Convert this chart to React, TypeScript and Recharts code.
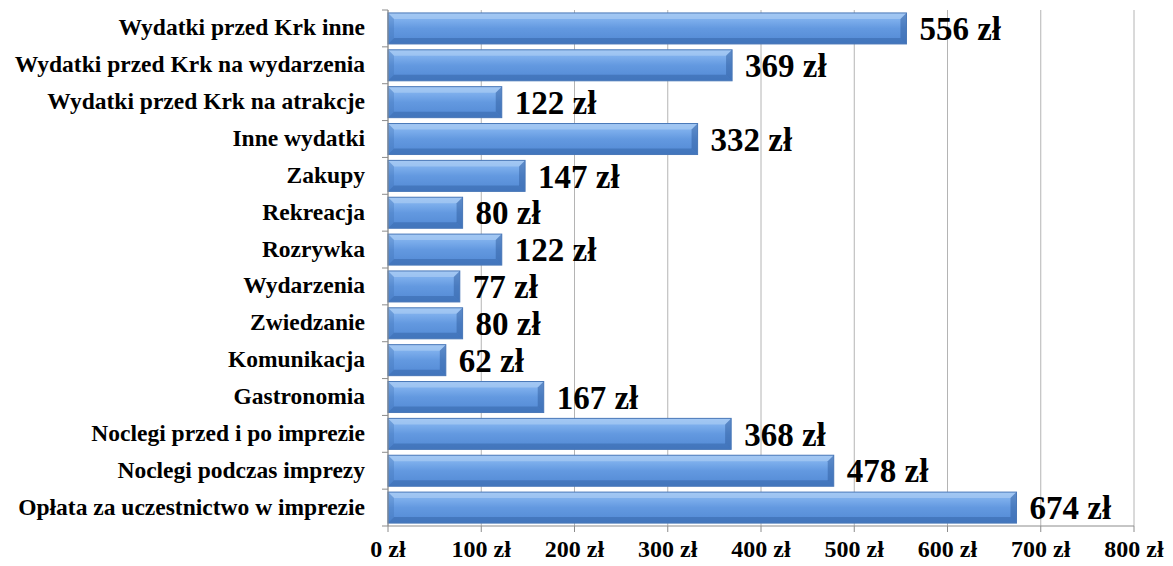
import React from 'react';
import { BarChart, Bar, XAxis, YAxis, CartesianGrid, LabelList } from 'recharts';

const categories = [
  'Wydatki przed Krk inne',
  'Wydatki przed Krk na wydarzenia',
  'Wydatki przed Krk na atrakcje',
  'Inne wydatki ',
  'Zakupy',
  'Rekreacja',
  'Rozrywka',
  'Wydarzenia',
  'Zwiedzanie',
  'Komunikacja',
  'Gastronomia',
  'Noclegi przed i po imprezie',
  'Noclegi podczas imprezy',
  'Opłata za uczestnictwo w imprezie',
];
const values = [556, 369, 122, 332, 147, 80, 122, 77, 80, 62, 167, 368, 478, 674];
const xTicks = [0, 100, 200, 300, 400, 500, 600, 700, 800];

const data = categories.map((name, i) => ({ name, value: values[i] }));

const FONT = '"Liberation Serif", "Times New Roman", serif';
const AXIS = '#8c8c8c';

const YTick = (props: any) => {
  const { x, y, payload, index } = props;
  const off = payload.offset || 0;
  return (
    <g>
      <line x1={x + 2} x2={x + 8} y1={y - off} y2={y - off} stroke={AXIS} strokeWidth={1} />
      {index === categories.length - 1 && (
        <line x1={x + 2} x2={x + 8} y1={y + off} y2={y + off} stroke={AXIS} strokeWidth={1} />
      )}
      <text x={x - 15} y={y} dy={7} textAnchor="end" fontFamily={FONT} fontWeight="bold" fontSize={23.5} fill="#000">
        {payload.value}
      </text>
    </g>
  );
};

const BevelBar = (props: any) => {
  const { x, y, width, height } = props;
  if (!width || width <= 0) return null;
  const b = Math.min(6, width / 2, height / 3);
  return (
    <g>
      <rect x={x} y={y} width={width} height={height} fill="url(#barGrad)" />
      <polygon
        points={`${x},${y} ${x + width},${y} ${x + width - b},${y + b} ${x + b},${y + b}`}
        fill="#b5d3f5"
        opacity={0.55}
      />
      <polygon
        points={`${x},${y + height} ${x + width},${y + height} ${x + width - b},${y + height - b} ${x + b},${y + height - b}`}
        fill="#2f5e9f"
        opacity={0.45}
      />
      <polygon
        points={`${x + width},${y} ${x + width},${y + height} ${x + width - b},${y + height - b} ${x + width - b},${y + b}`}
        fill="#2f5e9f"
        opacity={0.5}
      />
      <polygon
        points={`${x},${y} ${x},${y + height} ${x + b},${y + height - b} ${x + b},${y + b}`}
        fill="#3a6cb0"
        opacity={0.3}
      />
      <rect x={x} y={y} width={width} height={height} fill="none" stroke="#4a78b8" strokeWidth={1} />
    </g>
  );
};

export default function App() {
  return (
    <BarChart
      width={1165}
      height={558}
      data={data}
      layout="vertical"
      margin={{ top: 2, right: 39, bottom: 0, left: 0 }}
      barCategoryGap="8%"
    >
      <defs>
        <linearGradient id="barGrad" x1="0" y1="0" x2="0" y2="1">
          <stop offset="0%" stopColor="#8fbaf0" />
          <stop offset="25%" stopColor="#7aaceb" />
          <stop offset="50%" stopColor="#6399e0" />
          <stop offset="100%" stopColor="#5289d4" />
        </linearGradient>
      </defs>
      <CartesianGrid horizontal={false} stroke="#b4b4b4" />
      <XAxis
        type="number"
        domain={[0, 800]}
        ticks={xTicks}
        interval={0}
        height={40}
        stroke={AXIS}
        tickSize={6}
        tickFormatter={(v: number) => `${v} zł`}
        tick={{ fontFamily: FONT, fontWeight: 'bold', fontSize: 24, fill: '#000', dy: 6 }}
      />
      <YAxis
        type="category"
        dataKey="name"
        width={380}
        stroke={AXIS}
        tickLine={false}
        interval={0}
        tick={<YTick />}
      />
      <Bar dataKey="value" fill="#5b8fd8" shape={<BevelBar />} isAnimationActive={false}>
        <LabelList
          dataKey="value"
          position="right"
          offset={13}
          formatter={(v: number) => `${v} zł`}
          style={{ fontFamily: FONT, fontWeight: 'bold', fontSize: 33, fill: '#000' }}
        />
      </Bar>
    </BarChart>
  );
}
